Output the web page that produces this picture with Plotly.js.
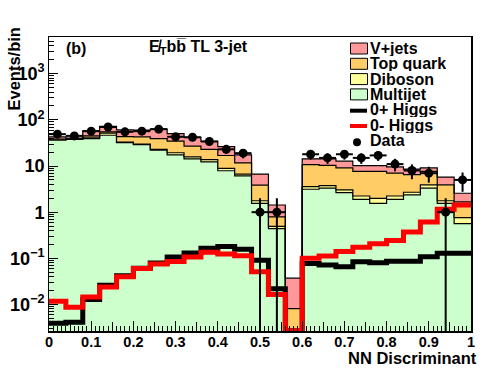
<!DOCTYPE html>
<html>
<head>
<meta charset="utf-8">
<script src="https://cdn.plot.ly/plotly-3.0.1.min.js"></script>
<style>
  html, body { margin:0; padding:0; background:#fff; }
  #plot { width:496px; height:372px; }
</style>
</head>
<body>
<div id="plot"></div>
<script>
// NN discriminant, 25 bins of width 0.04
const binWidth = 0.04;
const nBins = 25;

// backgrounds (events per bin), stacked in this order
const multijet = [36.6, 37.9, 39.3, 46.4, 32.1, 29.0, 22.1, 17.5, 14.3, 12.3, 7.9, 6.1, 1.55, 0.44, 0, 3.14, 3.31, 2.66, 1.90, 1.55, 1.90, 2.36, 3.31, 1.55, 0.565];
const diboson = [0.4, 0.3, 2.7, 5.0, 0.9, 0.9, 0.9, 1.9, 1.5, 1.5, 1.0, 0.6, 0.22, 0.05, 0, 0.45, 0.46, 0.38, 0.34, 0.45, 0.34, 0.34, 0.6, 0.22, 0.195];
const topQuark = [1.5, 0.5, 2.8, 3.4, 10.5, 13.1, 16.3, 15.4, 11.3, 9.1, 8.0, 5.0, 2.08, 0.30, 0.0081, 7.1, 6.6, 6.1, 5.4, 5.65, 4.8, 3.8, 3.74, 2.14, 0.92];
const vJets = [4.5, 1.5, 12.9, 17.2, 17.2, 16.7, 23.5, 15.7, 14.9, 11.4, 9.3, 5.8, 2.85, 0.64, 0.029, 3.6, 3.9, 3.6, 2.55, 2.55, 2.5, 2.1, 1.45, 1.86, 0.89];

// signal hypotheses
const higgsPlus = [0.0039, 0.0041, 0.0128, 0.026, 0.042, 0.061, 0.079, 0.107, 0.13, 0.165, 0.18, 0.158, 0.091, 0.022, 0.0027, 0.077, 0.072, 0.066, 0.084, 0.080, 0.086, 0.086, 0.108, 0.128, 0.128];
const higgsMinus = [0.0118, 0.0087, 0.0146, 0.024, 0.040, 0.060, 0.075, 0.085, 0.107, 0.135, 0.124, 0.114, 0.051, 0.0165, 0.0027, 0.10, 0.112, 0.14, 0.174, 0.206, 0.243, 0.37, 0.61, 1.15, 1.43];

// observed counts (bin 14 is empty)
const dataCounts = [49, 45, 57, 70, 55, 57, 63, 43, 42, 34, 23, 19, 1, 1, null, 18, 15, 18, 15, 17, 11, 8, 7, 1, 5];

const xTickLabels = ['0', '0.1', '0.2', '0.3', '0.4', '0.5', '0.6', '0.7', '0.8', '0.9', '1'];

const legendLabels = ['V+jets', 'Top quark', 'Diboson', 'Multijet', '0+ Higgs', '0- Higgs', 'Data'];
const legendKinds = ['box', 'box', 'box', 'box', 'line', 'line', 'dot'];
const legendColors = ['#ff9999', '#ffcc66', '#ffff99', '#ccffcc', '#000000', '#ff0000', '#000000'];

const floorVal = 1e-4;
const edges = [];
for (let i = 0; i <= nBins; i++) edges.push(+(i * binWidth).toFixed(4));
const centers = [];
for (let i = 0; i < nBins; i++) centers.push(+((i + 0.5) * binWidth).toFixed(4));

// step helper: repeat last value so the hv line closes at x=1
const step = (arr) => arr.concat([arr[arr.length - 1]]);

const addArr = (a, b) => a.map((v, i) => v + b[i]);
const cumMJ = multijet;
const cumDB = addArr(cumMJ, diboson);
const cumTop = addArr(cumDB, topQuark);
const cumV = addArr(cumTop, vJets);
const clip = (arr) => arr.map(v => Math.max(v, floorVal));

const stackTrace = (y, color) => ({
  x: edges, y: step(clip(y)),
  type: 'scatter', mode: 'lines',
  line: {color: '#000', width: 1.2, shape: 'hv'},
  fill: 'tonexty', fillcolor: color,
  hoverinfo: 'skip', showlegend: false
});

const traces = [
  {x: edges, y: step(edges.slice(1).map(() => floorVal)), type: 'scatter', mode: 'lines',
   line: {width: 0, shape: 'hv'}, hoverinfo: 'skip', showlegend: false},
  stackTrace(cumMJ, legendColors[3]),
  stackTrace(cumDB, legendColors[2]),
  stackTrace(cumTop, legendColors[1]),
  stackTrace(cumV, legendColors[0]),
  {x: edges, y: step(higgsPlus), type: 'scatter', mode: 'lines',
   line: {color: '#000', width: 5, shape: 'hv'}, showlegend: false},
  {x: edges, y: step(higgsMinus), type: 'scatter', mode: 'lines',
   line: {color: '#ff0000', width: 5, shape: 'hv'}, showlegend: false},
  {x: centers, y: dataCounts, type: 'scatter', mode: 'markers',
   marker: {color: '#000', size: 9},
   error_y: {type: 'sqrt', color: '#000', thickness: 2, width: 0},
   error_x: {type: 'constant', value: binWidth / 2, color: '#000', thickness: 2, width: 0},
   showlegend: false},
  // carrier for the secondary (0.05) tick marks
  {x: [0.5], y: [1], xaxis: 'x2', type: 'scatter', mode: 'markers', marker: {opacity: 0},
   hoverinfo: 'skip', showlegend: false}
];

// pixel -> paper helpers for the plot frame (49..471 x 37..331)
const L = 49, R = 471, T = 37, B = 331;
const px = v => (v - L) / (R - L);
const py = v => (B - v) / (B - T);

const font = {family: 'Liberation Sans, Arial, sans-serif', color: '#000', weight: 'bold'};

const annotations = [
  {text: 'Events/bin', xref: 'paper', yref: 'paper', x: px(13), y: py(26), xanchor: 'center', yanchor: 'top',
   textangle: -90, showarrow: false, font: {...font, size: 16.5}},
  {text: 'NN Discriminant', xref: 'paper', yref: 'paper', x: px(479), y: py(358), xanchor: 'right', yanchor: 'middle',
   showarrow: false, font: {...font, size: 16.5}},
  {text: '(b)', xref: 'paper', yref: 'paper', x: px(64), y: py(48), xanchor: 'left', yanchor: 'middle',
   showarrow: false, font: {...font, size: 16}},
  {text: 'E\u0338<sub>T</sub>bb\u0305 TL 3-jet', xref: 'paper', yref: 'paper', x: px(147), y: py(47), xanchor: 'left', yanchor: 'middle',
   showarrow: false, font: {...font, size: 16}}
];
const shapes = [];

// hand-drawn legend, ROOT style (tight rows)
legendLabels.forEach((lab, i) => {
  const yc = 48.5 + 15.3 * i;
  annotations.push({text: lab, xref: 'paper', yref: 'paper', x: px(369), y: py(yc), xanchor: 'left', yanchor: 'middle',
    height: 15, valign: 'middle', borderpad: 0,
    showarrow: false, font: {...font, size: 16}});
  if (legendKinds[i] === 'box') {
    shapes.push({type: 'rect', xref: 'paper', yref: 'paper', x0: px(350.5), x1: px(367.5), y0: py(yc - 5.5), y1: py(yc + 5.5),
      fillcolor: legendColors[i], line: {color: '#000', width: 1}});
  } else if (legendKinds[i] === 'line') {
    shapes.push({type: 'line', xref: 'paper', yref: 'paper', x0: px(350), x1: px(367), y0: py(yc + 1), y1: py(yc + 1),
      line: {color: legendColors[i], width: 4}});
  } else {
    shapes.push({type: 'circle', xref: 'paper', yref: 'paper', x0: px(353), x1: px(361), y0: py(yc - 2), y1: py(yc + 6),
      fillcolor: legendColors[i], line: {color: legendColors[i], width: 0}});
  }
});

const xTickVals = xTickLabels.map(Number);

const layout = {
  width: 496, height: 372,
  margin: {l: L, r: 496 - R, t: T, b: 372 - B, pad: 0},
  paper_bgcolor: '#fff', plot_bgcolor: '#fff',
  showlegend: false,
  font: font,
  xaxis: {
    range: [0, 1], tickmode: 'array', tickvals: xTickVals, ticktext: xTickLabels,
    ticks: 'inside', ticklen: 10, tickwidth: 1, tickcolor: '#000', ticklabelstandoff: -3,
    minor: {tickmode: 'linear', tick0: 0, dtick: 0.01, ticks: 'inside', ticklen: 5, tickcolor: '#000', showgrid: false},
    showline: true, mirror: true, linecolor: '#000', linewidth: 1.5,
    showgrid: false, zeroline: false, tickfont: {...font, size: 14.5}
  },
  xaxis2: {
    overlaying: 'x', side: 'bottom', anchor: 'y', range: [0, 1],
    tickmode: 'linear', tick0: 0.05, dtick: 0.1,
    ticks: 'inside', ticklen: 9, tickwidth: 1, tickcolor: '#000',
    showticklabels: false, showline: false, showgrid: false, zeroline: false
  },
  yaxis: {
    type: 'log', range: [-2.575, 3.796], tickmode: 'linear', tick0: 0, dtick: 1,
    exponentformat: 'power',
    ticks: 'inside', ticklen: 9, tickwidth: 1, tickcolor: '#000',
    minor: {dtick: 'D1', ticks: 'inside', ticklen: 5, tickcolor: '#000', showgrid: false},
    showline: true, mirror: true, linecolor: '#000', linewidth: 1.5,
    showgrid: false, zeroline: false, tickfont: {...font, size: 14.5}
  },
  annotations: annotations,
  shapes: shapes
};

Plotly.newPlot('plot', traces, layout, {staticPlot: true});
</script>
</body>
</html>
